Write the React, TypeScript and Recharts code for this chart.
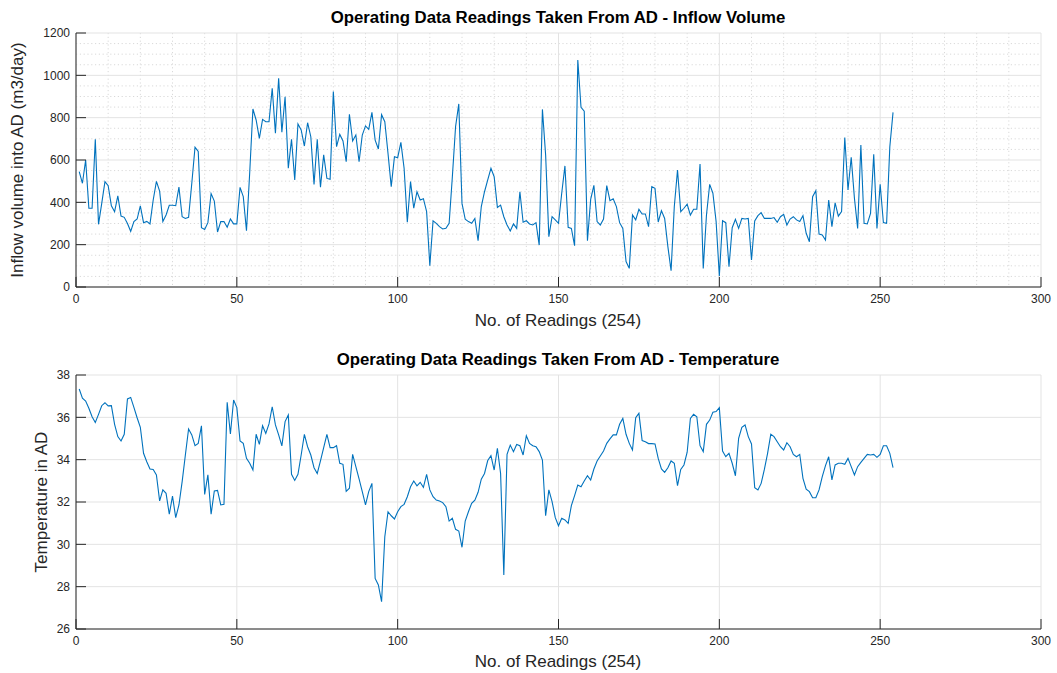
import React from 'react';
import { CartesianGrid, Line, LineChart, XAxis, YAxis } from 'recharts';

// readings 1..254, values
const inflow = [
  545, 490, 600, 372, 372, 698, 296, 395, 498, 479, 384, 356, 431, 335, 329, 300, 263, 309, 321, 383,
  304, 310, 298, 411, 499, 453, 309, 340, 386, 386, 384, 472, 332, 324, 329, 490, 660, 640, 280, 272,
  304, 441, 406, 260, 309, 309, 282, 321, 298, 298, 471, 427, 266, 540, 841, 789, 702, 792, 781, 781,
  939, 726, 986, 731, 899, 561, 698, 506, 770, 742, 666, 776, 710, 485, 698, 471, 624, 513, 509, 923,
  663, 721, 690, 592, 816, 690, 718, 592, 718, 761, 745, 825, 694, 652, 814, 781, 631, 474, 616, 611,
  683, 561, 306, 498, 372, 450, 411, 417, 356, 101, 313, 301, 285, 274, 277, 301, 521, 757, 865, 395,
  320, 309, 301, 324, 219, 380, 450, 506, 561, 521, 376, 387, 332, 293, 265, 298, 277, 450, 306, 313,
  298, 293, 304, 198, 839, 624, 238, 332, 317, 301, 443, 572, 282, 277, 195, 1072, 849, 831, 219, 414,
  480, 309, 293, 321, 479, 408, 417, 380, 304, 277, 120, 88, 340, 317, 367, 345, 345, 285, 474, 466,
  307, 361, 324, 191, 77, 380, 553, 356, 372, 391, 340, 367, 367, 581, 87, 340, 485, 443, 309, 52,
  313, 304, 96, 280, 320, 277, 324, 321, 324, 128, 312, 337, 351, 324, 324, 324, 328, 306, 332, 343,
  293, 321, 332, 317, 309, 337, 254, 214, 427, 455, 250, 246, 222, 411, 285, 398, 335, 356, 706, 458,
  613, 419, 277, 671, 301, 298, 348, 627, 277, 485, 304, 301, 663, 825,
];

const temperature = [
  37.34, 36.9, 36.77, 36.43, 36.03, 35.76, 36.14, 36.55, 36.69, 36.54, 36.55, 35.67, 35.09, 34.88, 35.2,
  36.87, 36.94, 36.47, 35.98, 35.53, 34.3, 33.9, 33.56, 33.54, 33.28, 32.05, 32.57, 32.41, 31.42, 32.28,
  31.26, 31.86, 32.96, 34.22, 35.45, 35.17, 34.66, 34.77, 35.6, 32.36, 33.28, 31.42, 32.52, 32.55, 31.86,
  31.89, 36.71, 35.21, 36.82, 36.46, 34.88, 34.77, 34.06, 33.83, 33.51, 35.2, 34.72, 35.6, 35.24, 35.69,
  36.5, 35.64, 35.17, 34.65, 35.8, 36.11, 33.31, 33.02, 33.31, 34.22, 35.2, 34.61, 34.22, 33.62, 33.35,
  33.94, 34.57, 35.2, 34.57, 34.57, 34.66, 33.83, 33.78, 32.5, 32.65, 34.25, 33.67, 33.09, 32.49, 31.86,
  32.49, 32.88, 28.39, 28.08, 27.29, 30.36, 31.54, 31.35, 31.2, 31.54, 31.78, 31.89, 32.25, 32.72, 32.99,
  32.76, 32.93, 32.69, 33.31, 32.57, 32.25, 32.09, 32.05, 31.97, 31.78, 31.1, 31.23, 30.71, 30.63, 29.86,
  31.1, 31.54, 31.94, 32.09, 32.46, 33.08, 33.35, 33.96, 34.19, 33.51, 34.54, 33.35, 28.55, 34.25, 34.69,
  34.38, 34.72, 34.66, 34.22, 35.13, 34.77, 34.66, 34.61, 34.38, 33.98, 31.35, 32.57, 32.02, 31.26, 30.88,
  31.23, 31.15, 30.99, 31.83, 32.3, 32.8, 32.72, 32.99, 33.24, 33.04, 33.56, 33.94, 34.17, 34.41, 34.77,
  34.98, 35.17, 35.17, 35.67, 35.95, 35.2, 34.77, 34.46, 35.98, 36.19, 34.9, 34.85, 34.76, 34.76, 34.74,
  34.06, 33.56, 33.4, 33.62, 33.94, 33.83, 32.77, 33.54, 33.75, 34.35, 35.95, 36.14, 36.03, 34.66, 34.38,
  35.67, 35.87, 36.24, 36.27, 36.46, 34.41, 34.14, 34.3, 33.83, 33.24, 35.01, 35.53, 35.64, 35.09, 34.74,
  32.68, 32.57, 32.88, 33.54, 34.3, 35.2, 35.09, 34.85, 34.61, 34.46, 34.8, 34.61, 34.25, 34.14, 34.25,
  33.12, 32.61, 32.49, 32.2, 32.2, 32.57, 33.2, 33.72, 34.14, 33.04, 33.75, 33.83, 33.83, 33.78, 34.06,
  33.67, 33.28, 33.67, 33.87, 34.06, 34.25, 34.22, 34.25, 34.11, 34.25, 34.66, 34.66, 34.3, 33.62,
];

const xTicks = [0, 50, 100, 150, 200, 250, 300];
const xMinor = [10, 20, 30, 40, 60, 70, 80, 90, 110, 120, 130, 140, 160, 170, 180, 190, 210, 220, 230, 240, 260, 270, 280, 290];
const inflowTicks = [0, 200, 400, 600, 800, 1000, 1200];
const inflowMinor = [50, 100, 150, 250, 300, 350, 450, 500, 550, 650, 700, 750, 850, 900, 950, 1050, 1100, 1150];
const tempTicks = [26, 28, 30, 32, 34, 36, 38];

const data = inflow.map((v, i) => ({ n: i + 1, inflow: v, temp: temperature[i] }));

const FONT = '"Liberation Sans", Arial, sans-serif';
const INK = '#262626';
const tickStyle = { fill: INK, fontSize: 12, fontFamily: FONT };

function Text({ x, y, children, size = 17, bold = false, rotate = false }: any) {
  return (
    <div
      style={{
        position: 'absolute', left: x, top: y, whiteSpace: 'nowrap', fontFamily: FONT, fontSize: size,
        fontWeight: bold ? 700 : 400, color: bold ? '#000' : INK,
        transform: `translate(-50%, -50%)${rotate ? ' rotate(-90deg)' : ''}`,
      }}
    >
      {children}
    </div>
  );
}

function Panel({ top, height, margin, dataKey, domain, yTicks, minor }: any) {
  return (
    <div style={{ position: 'absolute', left: 0, top }}>
      <LineChart width={1057} height={height} data={data} margin={margin}>
        {minor && (
          <CartesianGrid stroke="#d9d9d9" strokeDasharray="1.2 2.6" verticalValues={xMinor} horizontalValues={inflowMinor} />
        )}
        <CartesianGrid stroke="#e3e3e3" />
        <XAxis dataKey="n" type="number" domain={[0, 300]} ticks={xTicks} stroke={INK} tickSize={-10} tickMargin={17} tick={tickStyle} height={30} interval={0} />
        <XAxis xAxisId="top" orientation="top" type="number" domain={[0, 300]} ticks={xTicks} stroke={INK} tickSize={-10} tick={false} height={0} />
        <YAxis type="number" domain={domain} ticks={yTicks} stroke={INK} tickSize={-10} tickMargin={16} tick={tickStyle} width={50} interval={0} />
        <YAxis yAxisId="right" orientation="right" type="number" domain={domain} ticks={yTicks} stroke={INK} tickSize={-10} tick={false} width={0} />
        <Line type="linear" dataKey={dataKey} stroke="#0072BD" strokeWidth={1.1} dot={false} isAnimationActive={false} />
      </LineChart>
    </div>
  );
}

export default function App() {
  return (
    <div style={{ position: 'absolute', left: 0, top: 0, width: 1057, height: 673, background: '#fff' }}>
      <Panel top={0} height={340} margin={{ top: 33, right: 16, bottom: 23, left: 26 }} dataKey="inflow" domain={[0, 1200]} yTicks={inflowTicks} minor />
      <Panel top={340} height={333} margin={{ top: 35, right: 16, bottom: 14, left: 26 }} dataKey="temp" domain={[26, 38]} yTicks={tempTicks} />
      <Text x={558} y={18} size={16.8} bold>Operating Data Readings Taken From AD - Inflow Volume</Text>
      <Text x={558} y={321}>No. of Readings (254)</Text>
      <Text x={18} y={160} rotate>Inflow volume into AD (m3/day)</Text>
      <Text x={558} y={360} size={16.8} bold>Operating Data Readings Taken From AD - Temperature</Text>
      <Text x={558} y={662}>No. of Readings (254)</Text>
      <Text x={42} y={502} rotate>Temperature in AD</Text>
    </div>
  );
}
